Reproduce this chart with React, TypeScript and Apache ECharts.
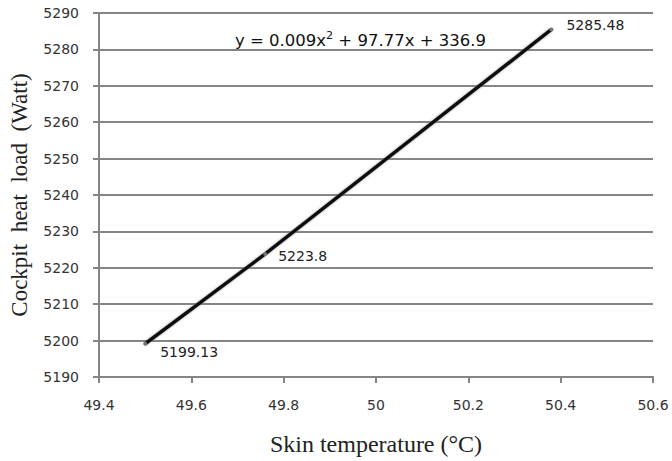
import React, { useEffect, useRef } from "react";
import * as echarts from "echarts";

const skinTemp = [49.5, 49.76, 50.38];
const heatLoad = [5199.13, 5223.8, 5285.48];
const pointLabels = ["5199.13", "5223.8", "5285.48"];
const equationText = "0.009x";
const equationTail = " + 97.77x + 336.9";

export default function App() {
  const ref = useRef<HTMLDivElement>(null);
  useEffect(() => {
    const chart = echarts.init(ref.current!, null, { renderer: "svg" });
    const labelOffsets: [number, number][] = [[8, 8], [6, 2], [8, -4]];
    chart.setOption({
      animation: false,
      backgroundColor: "#ffffff",
      grid: { left: 98, right: 19, top: 13, bottom: 84, containLabel: false },
      xAxis: {
        type: "value",
        min: 49.4,
        max: 50.6,
        interval: 0.2,
        name: "Skin temperature (°C)",
        nameLocation: "middle",
        nameGap: 55,
        nameTextStyle: { fontFamily: "Liberation Serif", fontSize: 24, color: "#222" },
        axisLine: { show: true, lineStyle: { color: "#858585", width: 2 } },
        axisTick: { show: true, length: 6, lineStyle: { color: "#858585", width: 2 } },
        axisLabel: {
          margin: 21,
          fontFamily: "DejaVu Sans",
          fontSize: 14,
          color: "#333",
          formatter: (v: number) => String(Math.round(v * 10) / 10),
        },
        splitLine: { show: false },
      },
      yAxis: {
        type: "value",
        min: 5190,
        max: 5290,
        interval: 10,
        name: "Cockpit  heat  load  (Watt)",
        nameLocation: "middle",
        nameGap: 68,
        nameTextStyle: { fontFamily: "Liberation Serif", fontSize: 23, color: "#222" },
        axisLine: { show: true, lineStyle: { color: "#858585", width: 2 } },
        axisTick: { show: true, length: 6, lineStyle: { color: "#858585", width: 2 } },
        axisLabel: {
          margin: 20,
          fontFamily: "DejaVu Sans",
          fontSize: 14,
          color: "#333",
          formatter: (v: number) => String(v),
        },
        splitLine: { show: true, lineStyle: { color: "#858585", width: 2 } },
      },
      series: [
        {
          type: "line",
          data: skinTemp.map((x, i) => ({
            value: [x, heatLoad[i]],
            label: {
              show: true,
              position: "right",
              offset: labelOffsets[i],
              formatter: pointLabels[i],
              fontFamily: "DejaVu Sans",
              fontSize: 14,
              color: "#222",
            },
          })),
          symbol: "circle",
          symbolSize: 4,
          itemStyle: { color: "#777" },
          lineStyle: {
            color: "#111",
            width: 3.5,
            shadowColor: "rgba(120,120,120,0.8)",
            shadowBlur: 2,
          },
          z: 5,
        },
      ],
      graphic: [
        {
          type: "text",
          left: 235,
          top: 30,
          style: {
            text: "y = {a|" + equationText + "}{s|2}{a|" + equationTail + "}",
            rich: {
              a: { fontFamily: "DejaVu Sans", fontSize: 16.5, fill: "#111" },
              s: { fontFamily: "DejaVu Sans", fontSize: 11, fill: "#111", verticalAlign: "top", padding: [0, 0, 9, 0] },
            },
            fontFamily: "DejaVu Sans",
            fontSize: 16.5,
            fill: "#111",
          },
          z: 10,
        },
      ],
    });
    return () => chart.dispose();
  }, []);
  return <div ref={ref} style={{ width: 672, height: 461, position: "absolute", left: 0, top: 0 }} />;
}
